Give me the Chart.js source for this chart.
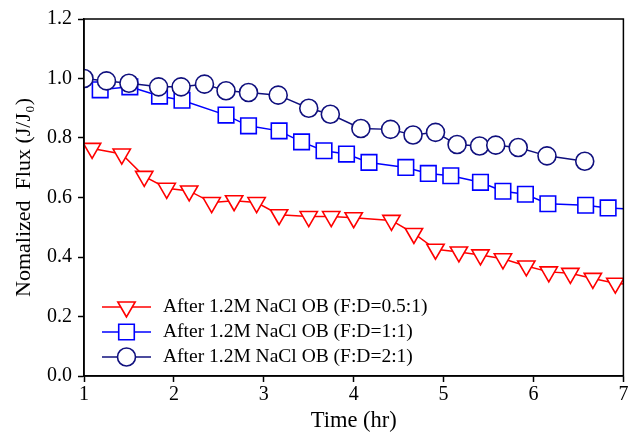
<!DOCTYPE html>
<html>
<head>
<meta charset="utf-8">
<script src="https://cdn.jsdelivr.net/npm/chart.js@4/dist/chart.umd.min.js"></script>
<style>
  html, body { margin: 0; padding: 0; background: #fff; }
  #wrap { width: 636px; height: 437px; }
</style>
</head>
<body>
<div id="wrap"><canvas id="myChart" width="636" height="437"></canvas></div>
<script>
// series labels
const labels = [
	'After 1.2M NaCl OB (F:D=0.5:1)',
	'After 1.2M NaCl OB (F:D=1:1)',
	'After 1.2M NaCl OB (F:D=2:1)'
];

// F:D = 0.5:1  (triangles)
const timeA = [1.09, 1.42, 1.67, 1.92, 2.17, 2.42, 2.67, 2.92, 3.17, 3.50, 3.75, 4.00, 4.42, 4.67, 4.91, 5.17, 5.41, 5.66, 5.92, 6.17, 6.41, 6.66, 6.91, 7.15];
const fluxA = [0.765, 0.746, 0.671, 0.631, 0.622, 0.583, 0.589, 0.583, 0.542, 0.536, 0.536, 0.532, 0.523, 0.479, 0.426, 0.417, 0.407, 0.394, 0.370, 0.350, 0.345, 0.328, 0.312, 0.305];

// F:D = 1:1  (squares)
const timeB = [1.18, 1.51, 1.84, 2.09, 2.58, 2.83, 3.17, 3.42, 3.67, 3.92, 4.17, 4.58, 4.83, 5.08, 5.41, 5.66, 5.91, 6.16, 6.58, 6.83, 7.15];
const fluxB = [0.962, 0.972, 0.941, 0.927, 0.877, 0.841, 0.824, 0.787, 0.757, 0.746, 0.718, 0.701, 0.681, 0.673, 0.651, 0.621, 0.611, 0.579, 0.574, 0.565, 0.560];

// F:D = 2:1  (circles)
const timeC = [1.00, 1.25, 1.50, 1.83, 2.08, 2.34, 2.58, 2.83, 3.16, 3.50, 3.74, 4.08, 4.41, 4.66, 4.91, 5.15, 5.40, 5.58, 5.83, 6.15, 6.57];
const fluxC = [1.000, 0.992, 0.984, 0.972, 0.972, 0.981, 0.959, 0.953, 0.944, 0.900, 0.880, 0.832, 0.829, 0.810, 0.819, 0.778, 0.773, 0.776, 0.768, 0.740, 0.722];

const xTicks = [1, 2, 3, 4, 5, 6, 7];
const yTicks = [0.0, 0.2, 0.4, 0.6, 0.8, 1.0, 1.2];

const font = 'Liberation Serif, Times New Roman, serif';

const pairs = (xs, ys) => xs.map((x, i) => ({ x: x, y: ys[i] }));

const mkSet = (label, xs, ys, color, style, r, rot, order) => ({
	label: label,
	data: pairs(xs, ys),
	borderColor: color,
	backgroundColor: '#ffffff',
	borderWidth: 1.5,
	pointStyle: style,
	pointRadius: r,
	pointRotation: rot,
	pointBorderWidth: 1.6,
	pointBorderColor: color,
	pointBackgroundColor: '#ffffff',
	tension: 0,
	order: order
});

const datasets = [
	mkSet(labels[0], timeA, fluxA, '#ff0000', 'triangle', 10, 180, 2),
	mkSet(labels[1], timeB, fluxB, '#0000ff', 'rect', 11, 0, 1),
	mkSet(labels[2], timeC, fluxC, '#10107e', 'circle', 9, 0, 0)
];

// box round the plot + legend inside it
const framePlugin = {
	id: 'frame',
	afterDraw(chart) {
		const ctx = chart.ctx, a = chart.chartArea;
		ctx.save();
		ctx.strokeStyle = '#000';
		ctx.lineWidth = 1.5;
		ctx.strokeRect(a.left, a.top, a.right - a.left, a.bottom - a.top);

		chart.data.datasets.forEach((ds, i) => {
			const y = a.bottom - 69 + i * 25;
			const x0 = a.left + 18, x1 = a.left + 67, xm = (x0 + x1) / 2;
			ctx.strokeStyle = ds.borderColor;
			ctx.lineWidth = ds.borderWidth;
			ctx.beginPath();
			ctx.moveTo(x0, y);
			ctx.lineTo(x1, y);
			ctx.stroke();
			ctx.fillStyle = '#ffffff';
			ctx.lineWidth = ds.pointBorderWidth;
			Chart.helpers.drawPoint(ctx, {
				pointStyle: ds.pointStyle,
				radius: ds.pointRadius,
				rotation: ds.pointRotation,
				borderWidth: ds.pointBorderWidth
			}, xm, y);
			ctx.fillStyle = '#000';
			ctx.font = '19.5px ' + font;
			ctx.textBaseline = 'middle';
			ctx.textAlign = 'left';
			ctx.fillText(ds.label, a.left + 79, y);
		});
		ctx.restore();
	}
};

const chart = new Chart(document.getElementById('myChart'), {
	type: 'line',
	data: { datasets: datasets },
	options: {
		responsive: false,
		animation: false,
		layout: { padding: { top: 19, right: 9, left: 0, bottom: 0 } },
		plugins: { legend: { display: false }, tooltip: { enabled: false } },
		scales: {
			x: {
				type: 'linear',
				min: 1, max: 7,
				afterBuildTicks: s => { s.ticks = xTicks.map(v => ({ value: v })); },
				afterFit: s => { s.height = 61; },
				grid: { drawOnChartArea: false, drawTicks: true, tickLength: 6, tickColor: '#000', tickWidth: 1.5 },
				border: { display: true, color: '#000', width: 1.5 },
				ticks: { color: '#000', padding: 1, maxRotation: 0, font: { family: font, size: 20 } },
				title: { display: true, text: 'Time (hr)', color: '#000', padding: { top: 0, bottom: 2 }, font: { family: font, size: 22.5 } }
			},
			y: {
				min: 0, max: 1.2,
				afterBuildTicks: s => { s.ticks = yTicks.map(v => ({ value: v })); },
				afterFit: s => { s.width = 84; },
				grid: { drawOnChartArea: false, drawTicks: true, tickLength: 6, tickColor: '#000', tickWidth: 1.5 },
				border: { display: true, color: '#000', width: 1.5 },
				ticks: { color: '#000', padding: 6, callback: v => v.toFixed(1), font: { family: font, size: 20 } },
				title: { display: true, text: 'Nomalized  Flux (J/J\u2080)', color: '#000', padding: { top: 11, bottom: 0 }, font: { family: font, size: 22 } }
			}
		}
	},
	plugins: [framePlugin]
});
</script>
</body>
</html>
